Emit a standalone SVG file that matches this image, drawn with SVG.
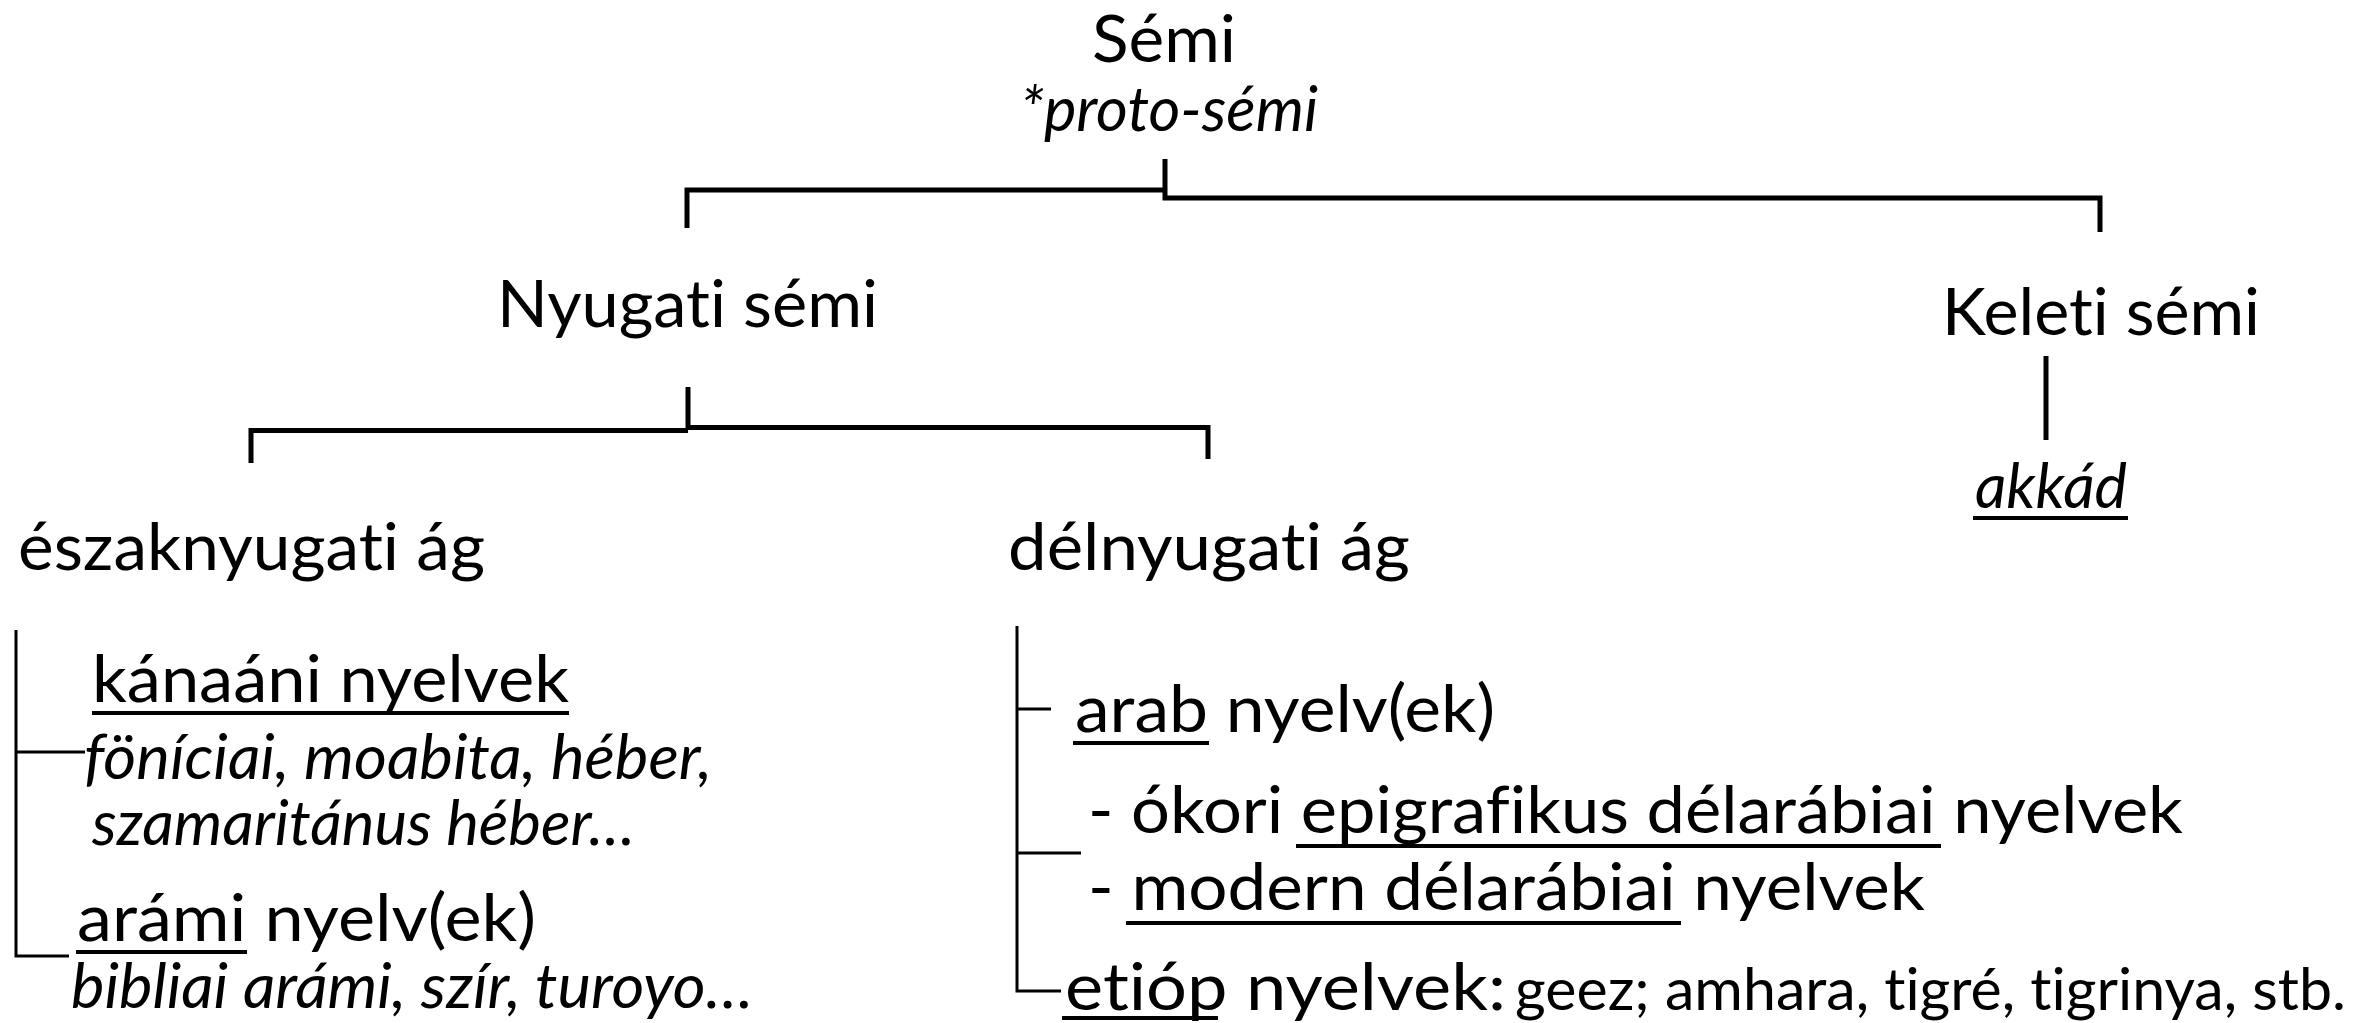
<svg xmlns="http://www.w3.org/2000/svg" width="2377" height="1023" viewBox="0 0 2377 1023">
<style>
  text { font-family: Lato, "Open Sans", "Liberation Sans", sans-serif; fill: #000; font-variant-ligatures: none; font-feature-settings: "liga" 0, "dlig" 0; }
  .m { font-size: 65px; }
  .i { font-size: 62px; font-style: italic; }
  .s { font-size: 58px; }
  .br { fill: none; stroke: #000; stroke-width: 5; stroke-linecap: butt; stroke-linejoin: miter; }
  .th { fill: none; stroke: #000; stroke-width: 3; }
  .ul { stroke: #000; stroke-width: 4; }
</style>
<rect width="2377" height="1023" fill="#fff"/>
<g id="connectors">
  <path class="br" d="M687,228 V190 H1165"/>
  <path class="br" d="M1165,159 V198 H2100 V232"/>
  <path class="br" d="M251,463 V430.5 H688"/>
  <path class="br" d="M688,387 V427.5 H1208 V459"/>
  <path class="br" d="M2046,356 V440"/>
  <path class="th" d="M16,630 V956 H69 M16,752 H85"/>
  <path class="th" d="M1017,626 V991 H1061 M1017,709 H1051 M1017,853 H1081"/>
</g>
<g id="semi">
  <text class="m" x="1092" y="62" textLength="144" lengthAdjust="spacingAndGlyphs">Sémi</text>
  <text class="i" x="1020" y="131" textLength="298" lengthAdjust="spacingAndGlyphs">*proto-sémi</text>
</g>
<g id="nyugati">
  <text class="m" x="497" y="327" textLength="381" lengthAdjust="spacingAndGlyphs">Nyugati sémi</text>
</g>
<g id="keleti">
  <text class="m" x="1942" y="335" textLength="318" lengthAdjust="spacingAndGlyphs">Keleti sémi</text>
</g>
<g id="akkad">
  <text class="i" x="1975" y="508" textLength="152" lengthAdjust="spacingAndGlyphs">akkád</text>
  <line class="ul" x1="1973" y1="518" x2="2128" y2="518"/>
</g>
<g id="eszaknyugati">
  <text class="m" x="18" y="570" textLength="467" lengthAdjust="spacingAndGlyphs">északnyugati ág</text>
</g>
<g id="delnyugati">
  <text class="m" x="1008" y="570" textLength="402" lengthAdjust="spacingAndGlyphs">délnyugati ág</text>
</g>
<g id="kanaani">
  <text class="m" x="92" y="702" textLength="477" lengthAdjust="spacingAndGlyphs">kánaáni nyelvek</text>
  <line class="ul" x1="92" y1="713" x2="569" y2="713"/>
  <text class="i" x="84" y="779" textLength="628" lengthAdjust="spacingAndGlyphs">föníciai, moabita, héber,</text>
  <text class="i" x="92" y="845" textLength="543" lengthAdjust="spacingAndGlyphs">szamaritánus héber…</text>
</g>
<g id="arami">
  <text class="m" x="77" y="941" textLength="459" lengthAdjust="spacingAndGlyphs">arámi nyelv(ek)</text>
  <line class="ul" x1="76" y1="952" x2="247" y2="952"/>
  <text class="i" x="71" y="1008" textLength="682" lengthAdjust="spacingAndGlyphs">bibliai arámi, szír, turoyo…</text>
</g>
<g id="arab">
  <text class="m" x="1075" y="732" textLength="420" lengthAdjust="spacingAndGlyphs">arab nyelv(ek)</text>
  <line class="ul" x1="1073" y1="743" x2="1209" y2="743"/>
  <text class="m" x="1088" y="833" textLength="1095" lengthAdjust="spacingAndGlyphs">- ókori epigrafikus délarábiai nyelvek</text>
  <line class="ul" x1="1296" y1="846" x2="1941" y2="846"/>
  <text class="m" x="1088" y="910" textLength="837" lengthAdjust="spacingAndGlyphs">- modern délarábiai nyelvek</text>
  <line class="ul" x1="1126" y1="923" x2="1681" y2="923"/>
</g>
<g id="etiop">
  <text class="m" x="1065" y="1010" textLength="441" lengthAdjust="spacingAndGlyphs">etióp nyelvek:</text>
  <line class="ul" x1="1062" y1="1018" x2="1218" y2="1018"/>
  <text class="s" x="1515" y="1010" textLength="831" lengthAdjust="spacingAndGlyphs">geez; amhara, tigré, tigrinya, stb.</text>
</g>
</svg>
